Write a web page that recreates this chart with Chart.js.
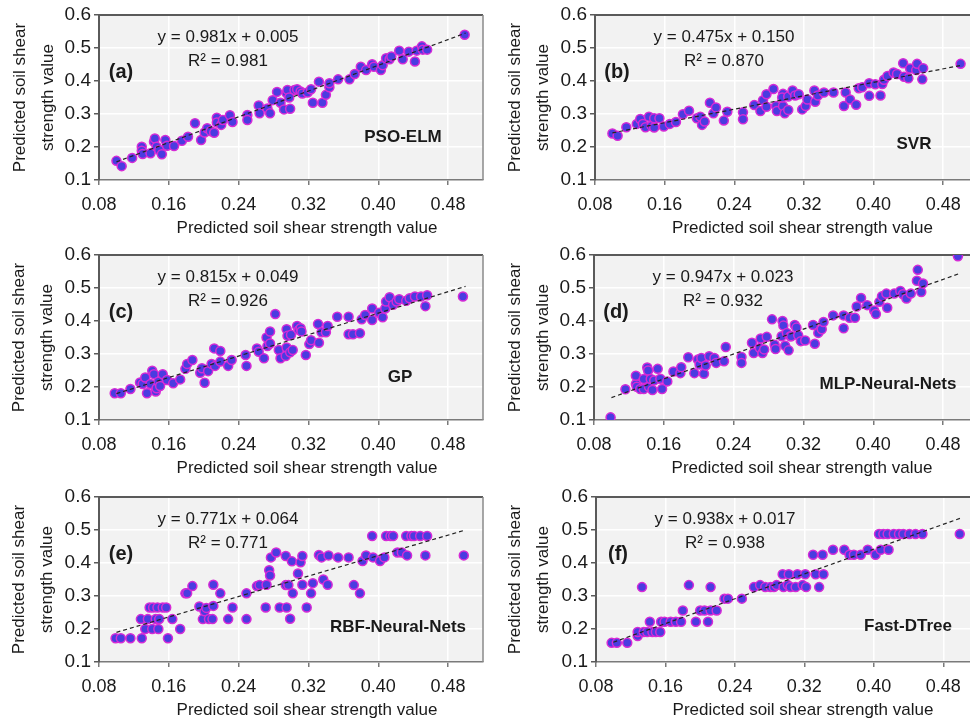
<!DOCTYPE html>
<html>
<head>
<meta charset="utf-8">
<title>Predicted soil shear strength</title>
<script src="https://cdn.jsdelivr.net/npm/chart.js@4.4.0/dist/chart.umd.min.js"></script>
<style>
  html, body { margin: 0; padding: 0; background: #fff; }
  #page { position: relative; width: 970px; height: 719px; overflow: hidden; }
  #page canvas { position: absolute; }
</style>
</head>
<body>
<div id="page"></div>
<script>
// tick labels
const xTicks = [0.08, 0.16, 0.24, 0.32, 0.40, 0.48];
const yTicks = [0.1, 0.2, 0.3, 0.4, 0.5, 0.6];

// panel texts
const letters = ['(a)', '(b)', '(c)', '(d)', '(e)', '(f)'];
const models = ['PSO-ELM', 'SVR', 'GP', 'MLP-Neural-Nets', 'RBF-Neural-Nets', 'Fast-DTree'];
const equations = ['y = 0.981x + 0.005', 'y = 0.475x + 0.150', 'y = 0.815x + 0.049',
                   'y = 0.947x + 0.023', 'y = 0.771x + 0.064', 'y = 0.938x + 0.017'];
const rSquared = ['R² = 0.981', 'R² = 0.870', 'R² = 0.926', 'R² = 0.932', 'R² = 0.771', 'R² = 0.938'];

// trendline ends as drawn in each panel
const trendX = [0.1, 0.5];
const trendY = [[0.155, 0.545], [0.243, 0.447], [0.180, 0.505], [0.168, 0.545], [0.190, 0.500], [0.160, 0.536]];

// scatter points [x, y]
const ptsA = [[0.100,0.158],[0.106,0.142],[0.118,0.167],[0.129,0.201],[0.129,0.189],[0.130,0.179],[0.139,0.181],[0.143,0.216],[0.144,0.226],[0.146,0.201],
  [0.149,0.191],[0.152,0.178],[0.156,0.221],[0.158,0.204],[0.166,0.203],[0.175,0.219],[0.182,0.231],[0.190,0.272],[0.197,0.221],[0.201,0.244],
  [0.204,0.257],[0.208,0.248],[0.212,0.243],[0.215,0.289],[0.215,0.274],[0.220,0.267],[0.222,0.282],[0.230,0.296],[0.233,0.276],[0.250,0.297],
  [0.250,0.282],[0.263,0.326],[0.264,0.302],[0.273,0.317],[0.276,0.302],[0.279,0.342],[0.284,0.367],[0.288,0.334],[0.292,0.314],[0.295,0.363],
  [0.296,0.373],[0.298,0.350],[0.299,0.316],[0.304,0.373],[0.307,0.375],[0.311,0.368],[0.313,0.362],[0.319,0.365],[0.323,0.375],[0.325,0.334],
  [0.332,0.398],[0.336,0.334],[0.340,0.358],[0.344,0.381],[0.344,0.393],[0.354,0.405],[0.367,0.405],[0.373,0.421],[0.380,0.443],[0.386,0.433],
  [0.393,0.451],[0.395,0.443],[0.403,0.433],[0.405,0.448],[0.409,0.469],[0.413,0.466],[0.415,0.474],[0.424,0.492],[0.428,0.466],[0.435,0.489],
  [0.442,0.459],[0.444,0.492],[0.450,0.505],[0.451,0.495],[0.456,0.495],[0.499,0.540]];

const ptsB = [[0.100,0.241],[0.106,0.234],[0.116,0.260],[0.128,0.270],[0.132,0.285],[0.135,0.270],[0.138,0.260],[0.142,0.292],[0.145,0.264],[0.148,0.259],
  [0.148,0.287],[0.154,0.287],[0.159,0.262],[0.166,0.270],[0.173,0.276],[0.181,0.299],[0.188,0.310],[0.197,0.287],[0.201,0.292],[0.203,0.267],
  [0.206,0.277],[0.212,0.334],[0.216,0.302],[0.219,0.320],[0.228,0.280],[0.232,0.307],[0.250,0.305],[0.250,0.284],[0.263,0.327],[0.270,0.309],
  [0.273,0.342],[0.277,0.360],[0.277,0.322],[0.285,0.376],[0.288,0.324],[0.289,0.309],[0.296,0.361],[0.296,0.324],[0.295,0.350],[0.298,0.302],
  [0.302,0.312],[0.302,0.353],[0.307,0.371],[0.310,0.356],[0.314,0.360],[0.318,0.314],[0.322,0.324],[0.324,0.344],[0.332,0.371],[0.333,0.337],
  [0.336,0.356],[0.343,0.365],[0.354,0.365],[0.366,0.324],[0.368,0.365],[0.373,0.344],[0.380,0.328],[0.383,0.378],[0.387,0.381],[0.395,0.355],
  [0.395,0.393],[0.402,0.390],[0.408,0.356],[0.410,0.391],[0.412,0.404],[0.416,0.415],[0.423,0.426],[0.427,0.421],[0.434,0.454],[0.435,0.413],
  [0.440,0.408],[0.442,0.438],[0.449,0.433],[0.450,0.452],[0.456,0.405],[0.457,0.439],[0.500,0.452]];

const ptsC = [[0.098,0.181],[0.105,0.181],[0.116,0.194],[0.127,0.214],[0.130,0.209],[0.133,0.229],[0.135,0.181],[0.139,0.209],[0.141,0.249],[0.143,0.239],
  [0.145,0.186],[0.146,0.196],[0.148,0.216],[0.150,0.203],[0.153,0.239],[0.158,0.221],[0.165,0.211],[0.173,0.223],[0.179,0.255],[0.181,0.270],
  [0.187,0.282],[0.196,0.243],[0.198,0.257],[0.201,0.213],[0.205,0.248],[0.209,0.270],[0.212,0.317],[0.213,0.264],[0.219,0.309],[0.219,0.277],
  [0.228,0.264],[0.232,0.282],[0.248,0.297],[0.249,0.264],[0.261,0.317],[0.263,0.307],[0.269,0.287],[0.272,0.350],[0.273,0.324],[0.276,0.368],
  [0.276,0.332],[0.282,0.421],[0.286,0.312],[0.288,0.287],[0.294,0.294],[0.295,0.320],[0.295,0.375],[0.296,0.355],[0.299,0.305],[0.300,0.358],
  [0.302,0.312],[0.307,0.385],[0.309,0.373],[0.311,0.378],[0.312,0.368],[0.317,0.297],[0.321,0.330],[0.323,0.342],[0.331,0.391],[0.332,0.334],
  [0.335,0.366],[0.340,0.366],[0.342,0.385],[0.353,0.413],[0.366,0.413],[0.366,0.360],[0.371,0.360],[0.379,0.363],[0.381,0.405],[0.385,0.418],
  [0.393,0.438],[0.393,0.403],[0.401,0.425],[0.405,0.411],[0.408,0.438],[0.409,0.459],[0.413,0.472],[0.417,0.449],[0.421,0.459],[0.424,0.466],
  [0.432,0.461],[0.436,0.469],[0.442,0.474],[0.449,0.474],[0.454,0.445],[0.456,0.478],[0.497,0.474]];

const ptsD = [[0.099,0.108],[0.116,0.193],[0.128,0.209],[0.128,0.234],[0.129,0.201],[0.133,0.194],[0.137,0.224],[0.137,0.194],[0.141,0.259],[0.142,0.250],
  [0.143,0.201],[0.145,0.224],[0.147,0.191],[0.149,0.220],[0.153,0.255],[0.156,0.225],[0.158,0.194],[0.164,0.217],[0.171,0.247],[0.179,0.242],
  [0.180,0.260],[0.188,0.290],[0.195,0.242],[0.199,0.283],[0.201,0.268],[0.203,0.288],[0.206,0.240],[0.208,0.265],[0.212,0.293],[0.218,0.288],
  [0.220,0.273],[0.229,0.278],[0.231,0.321],[0.249,0.291],[0.249,0.273],[0.261,0.334],[0.263,0.303],[0.270,0.318],[0.271,0.347],[0.273,0.303],
  [0.275,0.314],[0.278,0.352],[0.284,0.405],[0.287,0.328],[0.288,0.315],[0.295,0.354],[0.296,0.400],[0.297,0.386],[0.299,0.325],[0.301,0.364],
  [0.303,0.311],[0.305,0.354],[0.306,0.354],[0.310,0.388],[0.312,0.380],[0.314,0.357],[0.317,0.339],[0.322,0.341],[0.331,0.388],[0.333,0.331],
  [0.337,0.364],[0.341,0.375],[0.343,0.397],[0.354,0.417],[0.366,0.378],[0.366,0.417],[0.373,0.410],[0.379,0.410],[0.381,0.444],[0.386,0.470],
  [0.393,0.448],[0.401,0.432],[0.403,0.421],[0.407,0.458],[0.410,0.475],[0.415,0.483],[0.416,0.440],[0.424,0.483],[0.431,0.491],[0.434,0.481],
  [0.438,0.468],[0.443,0.483],[0.450,0.522],[0.451,0.555],[0.455,0.488],[0.457,0.514],[0.497,0.596]];

const ptsE = [[0.099,0.172],[0.105,0.172],[0.116,0.172],[0.129,0.172],[0.128,0.230],[0.133,0.200],[0.136,0.230],[0.138,0.265],[0.141,0.200],[0.142,0.265],
  [0.145,0.230],[0.147,0.265],[0.148,0.200],[0.149,0.230],[0.153,0.265],[0.157,0.265],[0.159,0.172],[0.164,0.230],[0.173,0.200],[0.179,0.308],
  [0.181,0.308],[0.187,0.330],[0.195,0.268],[0.199,0.230],[0.201,0.254],[0.203,0.264],[0.206,0.230],[0.210,0.230],[0.211,0.270],[0.211,0.334],
  [0.219,0.308],[0.228,0.230],[0.233,0.265],[0.249,0.230],[0.249,0.308],[0.261,0.330],[0.264,0.333],[0.271,0.265],[0.272,0.334],[0.275,0.378],
  [0.276,0.362],[0.277,0.417],[0.283,0.432],[0.287,0.265],[0.294,0.421],[0.294,0.333],[0.295,0.265],[0.297,0.333],[0.299,0.231],[0.301,0.405],
  [0.302,0.308],[0.308,0.368],[0.311,0.402],[0.313,0.421],[0.313,0.334],[0.318,0.265],[0.323,0.308],[0.325,0.339],[0.332,0.424],[0.335,0.417],
  [0.337,0.350],[0.342,0.334],[0.343,0.423],[0.354,0.417],[0.366,0.417],[0.372,0.333],[0.379,0.308],[0.382,0.406],[0.386,0.423],[0.393,0.482],
  [0.394,0.417],[0.402,0.406],[0.407,0.417],[0.409,0.482],[0.414,0.482],[0.417,0.482],[0.422,0.432],[0.427,0.432],[0.432,0.482],[0.433,0.423],
  [0.438,0.482],[0.441,0.482],[0.448,0.482],[0.454,0.423],[0.456,0.482],[0.498,0.423]];

const ptsF = [[0.098,0.158],[0.104,0.158],[0.116,0.158],[0.128,0.179],[0.128,0.191],[0.133,0.327],[0.135,0.191],[0.139,0.191],[0.142,0.222],[0.145,0.191],
  [0.149,0.191],[0.154,0.191],[0.155,0.222],[0.159,0.222],[0.166,0.222],[0.172,0.222],[0.178,0.222],[0.180,0.256],[0.187,0.333],[0.195,0.222],
  [0.200,0.256],[0.205,0.256],[0.209,0.222],[0.212,0.327],[0.212,0.256],[0.219,0.256],[0.228,0.292],[0.232,0.292],[0.248,0.292],[0.262,0.327],
  [0.269,0.333],[0.275,0.327],[0.281,0.327],[0.285,0.327],[0.288,0.333],[0.295,0.366],[0.296,0.327],[0.301,0.333],[0.302,0.366],[0.304,0.327],
  [0.310,0.327],[0.312,0.366],[0.318,0.333],[0.321,0.366],[0.322,0.327],[0.330,0.425],[0.333,0.366],[0.337,0.327],[0.341,0.425],[0.342,0.366],
  [0.353,0.440],[0.366,0.440],[0.372,0.425],[0.377,0.425],[0.385,0.425],[0.393,0.440],[0.402,0.425],[0.406,0.488],[0.408,0.440],[0.411,0.488],
  [0.416,0.488],[0.417,0.440],[0.423,0.488],[0.429,0.488],[0.434,0.488],[0.441,0.488],[0.448,0.488],[0.456,0.488],[0.499,0.488]];

const allPoints = [ptsA, ptsB, ptsC, ptsD, ptsE, ptsF];

// where each panel sits on the page
const slots = [
  { left: 0,   top: 0,   width: 490, axisW: 99,  titlePad: 6,  nameAt: [304, 122] },
  { left: 485, top: 0,   width: 500, axisW: 110, titlePad: 16, nameAt: [319, 129] },
  { left: 0,   top: 240, width: 490, axisW: 99,  titlePad: 5,  nameAt: [301, 122] },
  { left: 485, top: 240, width: 500, axisW: 109, titlePad: 16, nameAt: [294, 129] },
  { left: 0,   top: 482, width: 490, axisW: 99,  titlePad: 5,  nameAt: [299, 130] },
  { left: 485, top: 482, width: 500, axisW: 111, titlePad: 16, nameAt: [312, 129] }
];

const FONT = "'Liberation Sans', Arial, sans-serif";
Chart.defaults.font.family = FONT;
Chart.defaults.color = '#1a1a1a';

// grey plot area, frame and the panel texts
const panelDecor = {
  id: 'panelDecor',
  beforeDraw(chart) {
    const { ctx, chartArea: a } = chart;
    ctx.save();
    ctx.fillStyle = '#f2f2f2';
    ctx.fillRect(a.left, a.top, a.right - a.left, a.bottom - a.top);
    ctx.restore();
  },
  beforeDatasetsDraw(chart) {
    const { ctx, chartArea: a } = chart;
    ctx.save();
    ctx.lineWidth = 2;
    ctx.strokeStyle = '#5a5a5a';
    ctx.beginPath();
    ctx.moveTo(a.left, a.top);
    ctx.lineTo(a.right, a.top);
    ctx.stroke();
    ctx.lineWidth = 1.5;
    ctx.strokeStyle = '#8a8a8a';
    ctx.beginPath();
    ctx.moveTo(a.right, a.top);
    ctx.lineTo(a.right, a.bottom);
    ctx.stroke();
    ctx.restore();
  },
  afterDraw(chart, args, opts) {
    const { ctx, chartArea: a } = chart;
    ctx.save();
    ctx.fillStyle = '#1a1a1a';
    ctx.textAlign = 'center';
    ctx.textBaseline = 'middle';
    ctx.font = `17px ${FONT}`;
    ctx.fillText(opts.eq, a.left + 129, a.top + 22);
    ctx.fillText(opts.r2, a.left + 129, a.top + 46);
    ctx.fillText('Predicted soil shear strength value', (a.left + a.right) / 2 + 16, a.bottom + 48);
    ctx.font = `bold 20px ${FONT}`;
    ctx.fillText(opts.letter, a.left + 22, a.top + 57);
    ctx.font = `bold 17px ${FONT}`;
    ctx.fillText(opts.name, a.left + opts.nameAt[0], a.top + opts.nameAt[1]);
    ctx.restore();
  }
};

const page = document.getElementById('page');

allPoints.forEach((pts, i) => {
  const slot = slots[i];
  const canvas = document.createElement('canvas');
  canvas.width = slot.width;
  canvas.height = 240;
  canvas.style.left = slot.left + 'px';
  canvas.style.top = slot.top + 'px';
  page.appendChild(canvas);

  new Chart(canvas, {
    type: 'scatter',
    data: {
      datasets: [
        {
          type: 'line',
          data: trendX.map((x, k) => ({ x: x, y: trendY[i][k] })),
          borderColor: '#222',
          borderWidth: 1.2,
          borderDash: [4, 3],
          pointRadius: 0,
          fill: false,
          order: 0
        },
        {
          data: pts.map(p => ({ x: p[0], y: p[1] })),
          backgroundColor: '#4a3ce0',
          borderColor: '#d62ad6',
          borderWidth: 1.5,
          pointRadius: 4.5,
          order: 1
        }
      ]
    },
    options: {
      responsive: false,
      animation: false,
      devicePixelRatio: 1,
      layout: { padding: { top: 15, right: 7, left: 0, bottom: 0 } },
      plugins: {
        legend: { display: false },
        tooltip: { enabled: false },
        panelDecor: {
          eq: equations[i], r2: rSquared[i], letter: letters[i],
          name: models[i], nameAt: slot.nameAt
        }
      },
      scales: {
        x: {
          type: 'linear',
          min: 0.08,
          max: 0.52,
          afterBuildTicks: s => { s.ticks = xTicks.map(v => ({ value: v })); },
          afterFit: s => { s.height = 60; },
          ticks: {
            font: { size: 18 },
            color: '#1a1a1a',
            padding: 9,
            maxRotation: 0,
            callback: v => v.toFixed(2)
          },
          grid: { color: '#ffffff', lineWidth: 1.5, tickColor: '#7a7a7a', tickLength: 5 },
          border: { color: '#7a7a7a', width: 1.5 }
        },
        y: {
          min: 0.1,
          max: 0.6,
          afterBuildTicks: s => { s.ticks = yTicks.map(v => ({ value: v })); },
          afterFit: s => { s.width = slot.axisW; },
          ticks: {
            font: { size: 19 },
            color: '#1a1a1a',
            padding: 3,
            callback: v => v.toFixed(1)
          },
          grid: { color: '#ffffff', lineWidth: 1.5, tickColor: '#5a5a5a', tickLength: 5 },
          border: { color: '#5a5a5a', width: 2 },
          title: {
            display: true,
            text: ['Predicted soil shear', 'strength value'],
            font: { size: 17, lineHeight: 1.65 },
            color: '#1a1a1a',
            padding: { top: slot.titlePad, bottom: 0 }
          }
        }
      }
    },
    plugins: [panelDecor]
  });
});
</script>
</body>
</html>
